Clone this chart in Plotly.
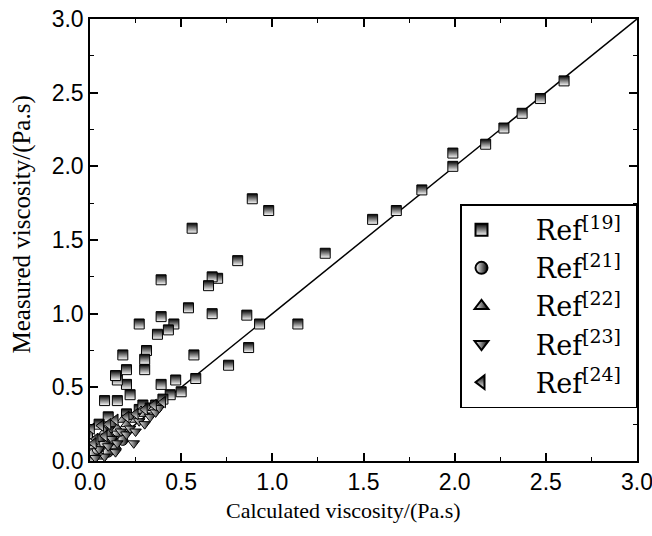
import plotly.graph_objects as go

# Ref[19]
x19 = [2.60, 2.47, 2.37, 2.27, 2.17, 1.99, 1.99, 1.82, 1.68, 1.55, 1.29, 1.14,
       0.98, 0.89, 0.93, 0.86, 0.87, 0.81, 0.76, 0.70, 0.67, 0.65, 0.67, 0.56,
       0.54, 0.57, 0.58, 0.50, 0.47, 0.46, 0.43, 0.44, 0.39, 0.39, 0.37, 0.39,
       0.31, 0.30, 0.30, 0.27, 0.20, 0.18, 0.20, 0.15, 0.14, 0.08, 0.15, 0.10,
       0.20, 0.27, 0.29, 0.33, 0.36, 0.22, 0.05, 0.01, 0.40, 0.12]
y19 = [2.58, 2.46, 2.36, 2.26, 2.15, 2.09, 2.00, 1.84, 1.70, 1.64, 1.41, 0.93,
       1.70, 1.78, 0.93, 0.99, 0.77, 1.36, 0.65, 1.24, 1.25, 1.19, 1.00, 1.58,
       1.04, 0.72, 0.56, 0.47, 0.55, 0.93, 0.89, 0.45, 1.23, 0.98, 0.86, 0.52,
       0.75, 0.69, 0.62, 0.93, 0.62, 0.72, 0.52, 0.55, 0.58, 0.41, 0.41, 0.30,
       0.32, 0.35, 0.38, 0.36, 0.38, 0.45, 0.25, 0.02, 0.42, 0.20]

# Ref[21]
x21 = [0.02, 0.04, 0.05, 0.08, 0.12, 0.15, 0.10, 0.18]
y21 = [0.05, 0.08, 0.10, 0.12, 0.16, 0.20, 0.06, 0.14]

# Ref[22]
x22 = [0.02, 0.05, 0.08, 0.10, 0.12, 0.15, 0.18, 0.20, 0.22, 0.25, 0.28, 0.30,
       0.35, 0.06, 0.14]
y22 = [0.10, 0.15, 0.20, 0.18, 0.25, 0.22, 0.28, 0.25, 0.30, 0.28, 0.34, 0.32,
       0.36, 0.03, 0.10]

# Ref[23]
x23 = [0.05, 0.10, 0.12, 0.15, 0.17, 0.20, 0.22, 0.25, 0.27, 0.30, 0.33, 0.36,
       0.38, 0.08, 0.14, 0.24, 0.03]
y23 = [0.08, 0.10, 0.15, 0.12, 0.20, 0.18, 0.22, 0.20, 0.27, 0.25, 0.30, 0.33,
       0.36, 0.03, 0.06, 0.12, 0.02]

# Ref[24]
x24 = [0.00, 0.01, 0.03, 0.06, 0.10, 0.14, 0.20, 0.25, 0.30, 0.35, 0.40, 0.02,
       0.08]
y24 = [0.18, 0.22, 0.15, 0.24, 0.25, 0.28, 0.30, 0.32, 0.35, 0.38, 0.40, 0.12,
       0.17]

fig = go.Figure()

# y = x line
fig.add_trace(go.Scatter(x=[0, 3], y=[0, 3], mode='lines',
                         line=dict(color='black', width=1.5),
                         showlegend=False, hoverinfo='skip'))

series = [
    (x19, y19, 'square', 'black', 'white', 'vertical', '19'),
    (x21, y21, 'circle', 'white', 'black', 'horizontal', '21'),
    (x22, y22, 'triangle-up', 'white', 'black', 'horizontal', '22'),
    (x23, y23, 'triangle-down', 'white', 'black', 'horizontal', '23'),
    (x24, y24, 'triangle-left', 'black', 'white', 'vertical', '24'),
]
for xs, ys, sym, col, gcol, gtype, ref in series:
    fig.add_trace(go.Scatter(
        x=xs, y=ys, mode='markers',
        name='\u00a0\u00a0\u00a0\u00a0Ref<sup>[' + ref + ']</sup>\u00a0',
        marker=dict(symbol=sym, size=10, color=col,
                    gradient=dict(type=gtype, color=gcol),
                    line=dict(color='black', width=1))))

axis_common = dict(
    range=[0, 3], dtick=0.5, tickformat='.1f',
    ticks='inside', ticklen=8, tickwidth=1.5, tickcolor='black',
    minor=dict(dtick=0.25, ticks='inside', ticklen=4, tickwidth=1.2, tickcolor='black'),
    showline=True, linecolor='black', linewidth=1.5, mirror='allticks',
    showgrid=False, zeroline=False, automargin=False, ticklabeloverflow='allow',
    tickfont=dict(family='Liberation Sans, Arial', size=23, color='black'),
)

title_font = dict(family='Liberation Serif, Times New Roman', color='black')

fig.update_layout(
    width=652, height=536,
    margin=dict(l=90, r=15, t=19, b=75),
    paper_bgcolor='white', plot_bgcolor='white',
    xaxis=axis_common,
    yaxis=axis_common,
    legend=dict(x=1, y=0.581, xanchor='right', yanchor='top',
                bordercolor='black', borderwidth=1.5, bgcolor='white',
                font=dict(family='DejaVu Serif', size=27, color='black'),
                itemsizing='constant'),
    annotations=[
        dict(text='Calculated viscosity/(Pa.s)', xref='paper', yref='paper',
             x=0.464, y=0, yshift=-49, xanchor='center', yanchor='middle',
             showarrow=False, font=dict(size=22, **title_font)),
        dict(text='Measured viscosity/(Pa.s)', xref='paper', yref='paper',
             x=0, y=0.535, xshift=-68, xanchor='center', yanchor='middle',
             textangle=-90, showarrow=False, font=dict(size=25, **title_font)),
    ],
)

fig.write_html("out.html", config={'displayModeBar': False},
               post_script="document.body.style.margin='0';document.body.style.overflow='hidden';")
